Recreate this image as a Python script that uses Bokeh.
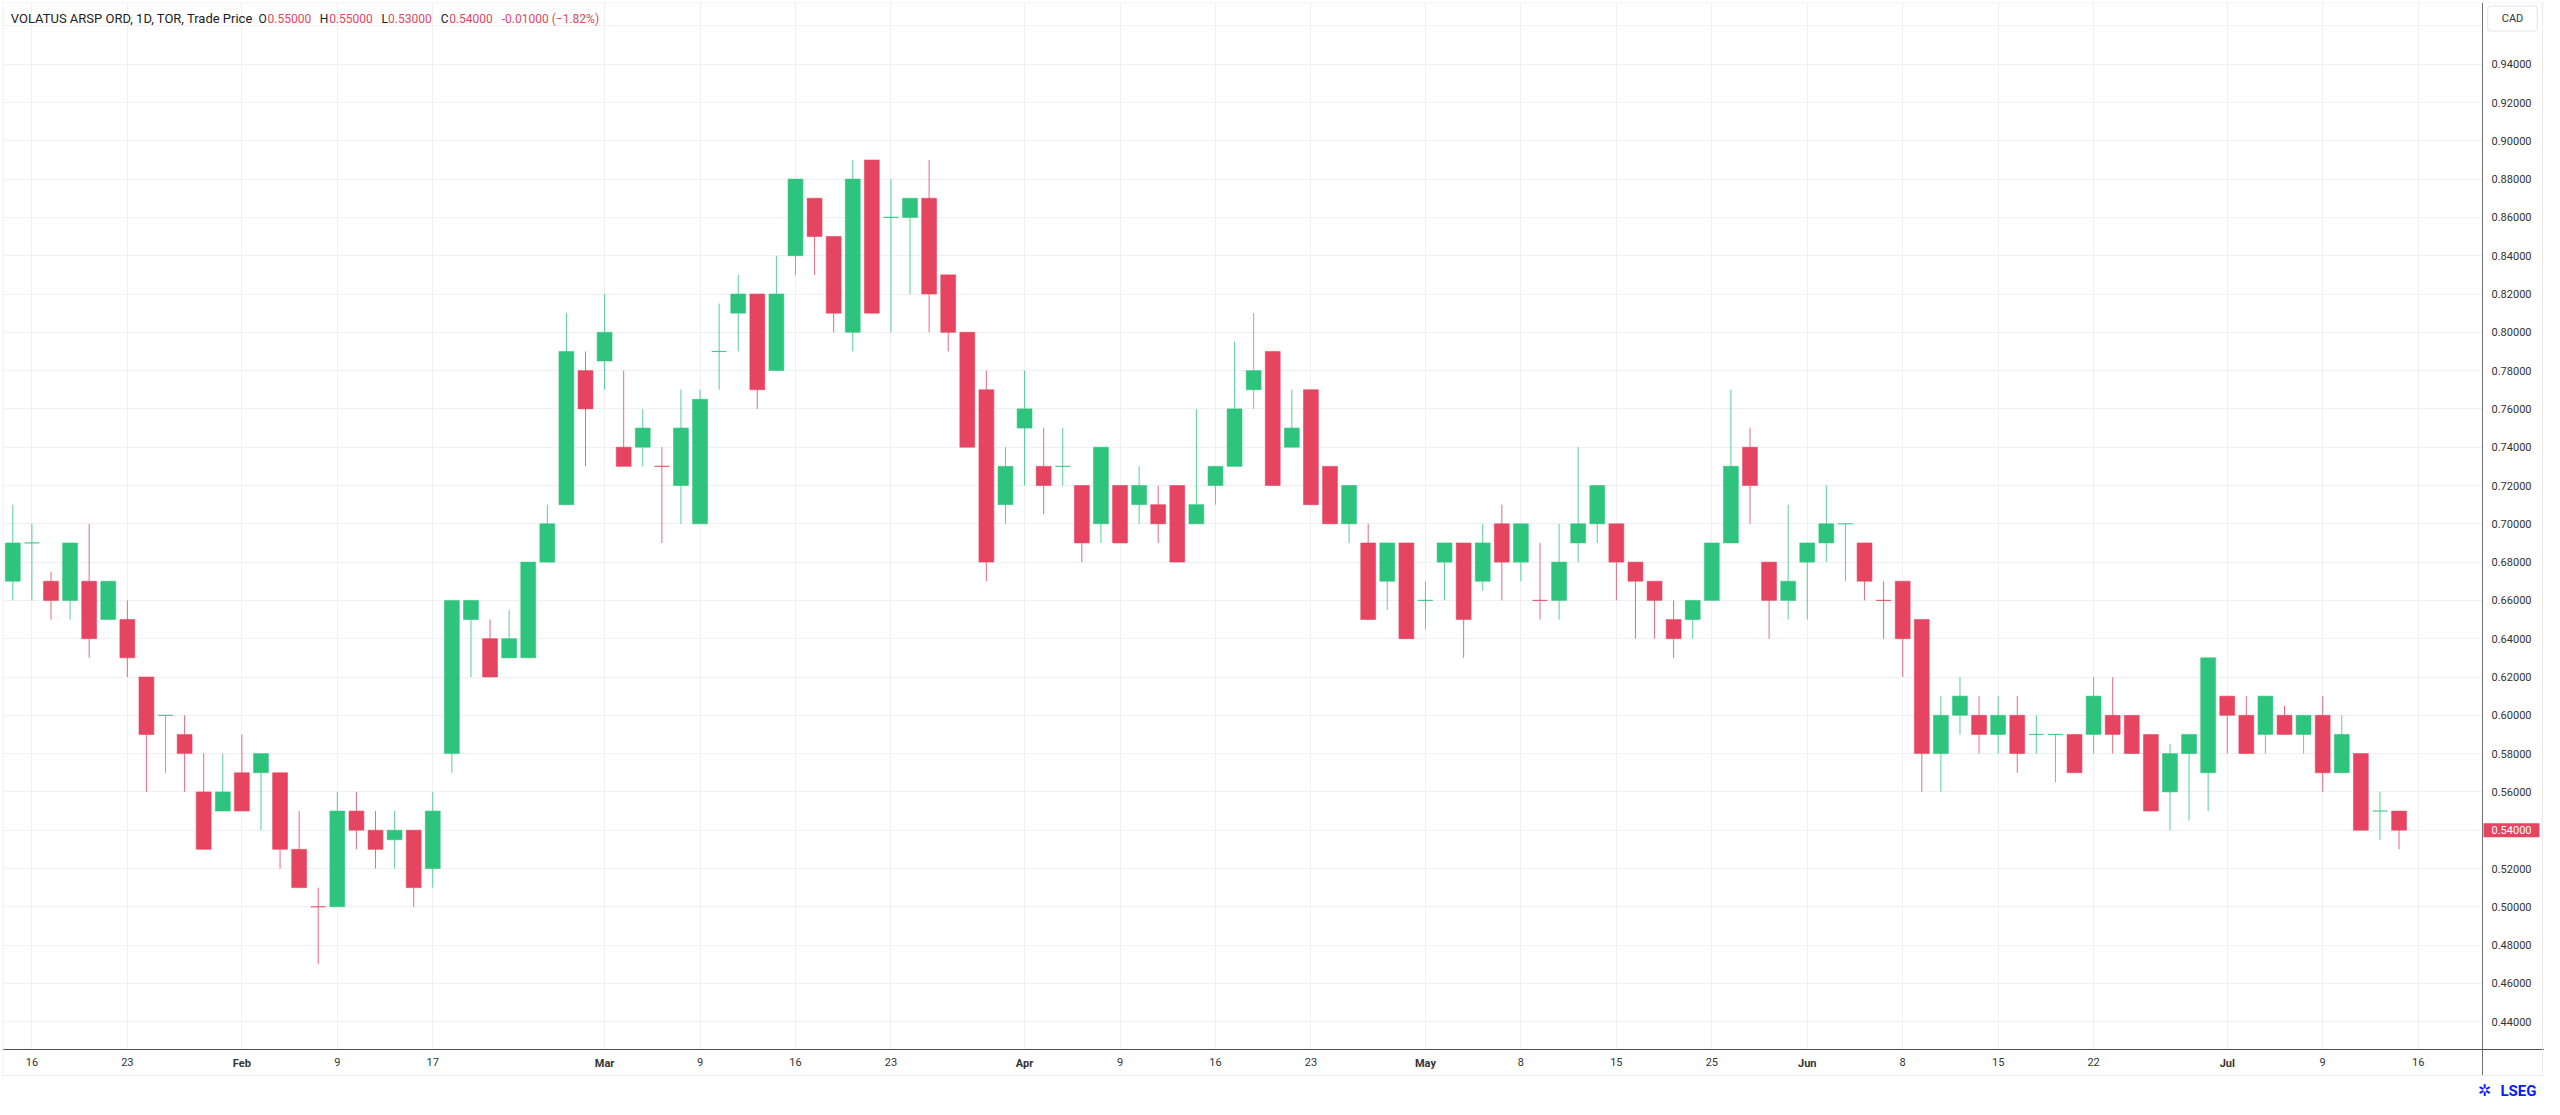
import numpy as np
import pandas as pd
from bokeh.plotting import figure
from bokeh.models import (Range1d, FixedTicker, NumeralTickFormatter, Label,
                          ColumnDataSource, BoxAnnotation, Span)
from bokeh.embed import file_html
from bokeh.resources import INLINE

# ---------------- data (daily OHLC, TOR, CAD) ----------------
first_day = "2026-01-15"
last_axis_day = "2026-07-16"
holidays = ["2026-02-16", "2026-04-03", "2026-05-18", "2026-07-01"]

opens = [
    .67, .69, .67, .66, .67, .65, .65, .62, .60, .59,
    .56, .55, .57, .57, .57, .53, .50, .50, .55, .54,
    .535, .54, .52, .58, .65, .64, .63, .63, .68, .71,
    .78, .785, .74, .74, .73, .72, .70, .79, .81, .82,
    .78, .84, .87, .85, .80, .89, .86, .86, .87, .83,
    .80, .77, .71, .75, .73, .73, .72, .70, .72, .71,
    .71, .72, .70, .72, .73, .77, .79, .74, .77, .73,
    .70, .69, .67, .69, .66, .68, .69, .67, .70, .68,
    .66, .66, .69, .70, .70, .68, .67, .65, .65, .66,
    .69, .74, .68, .66, .68, .69, .70, .69, .66, .67,
    .65, .58, .60, .60, .59, .60, .59, .59, .59, .59,
    .60, .60, .59, .56, .58, .57, .61, .60, .59, .60,
    .59, .60, .57, .58, .55, .55]
highs = [
    .71, .70, .675, .69, .70, .67, .66, .62, .60, .60,
    .58, .58, .59, .58, .57, .55, .51, .56, .56, .55,
    .55, .54, .56, .66, .66, .65, .655, .68, .71, .81,
    .79, .82, .78, .76, .74, .77, .77, .815, .83, .82,
    .84, .88, .87, .85, .89, .89, .88, .87, .89, .83,
    .80, .78, .74, .78, .75, .75, .72, .74, .72, .73,
    .72, .72, .76, .73, .795, .81, .79, .77, .77, .73,
    .72, .70, .69, .69, .67, .69, .69, .70, .71, .70,
    .69, .70, .74, .72, .70, .68, .67, .66, .66, .69,
    .77, .75, .68, .71, .69, .72, .70, .69, .67, .67,
    .65, .61, .62, .61, .61, .61, .60, .59, .59, .62,
    .62, .60, .59, .585, .59, .63, .61, .61, .61, .605,
    .60, .61, .60, .58, .56, .55]
lows = [
    .66, .66, .65, .65, .63, .65, .62, .56, .57, .56,
    .53, .55, .55, .54, .52, .51, .47, .50, .53, .52,
    .52, .50, .51, .57, .62, .62, .63, .63, .68, .71,
    .73, .77, .73, .73, .69, .70, .70, .77, .79, .76,
    .78, .83, .83, .80, .79, .81, .80, .82, .80, .79,
    .74, .67, .70, .72, .705, .72, .68, .69, .69, .70,
    .69, .68, .70, .71, .73, .76, .72, .74, .71, .70,
    .69, .65, .655, .64, .645, .66, .63, .665, .66, .67,
    .65, .65, .68, .69, .66, .64, .64, .63, .64, .66,
    .69, .70, .64, .65, .65, .68, .67, .66, .64, .62,
    .56, .56, .59, .58, .58, .57, .58, .565, .57, .58,
    .58, .58, .55, .54, .545, .55, .58, .58, .58, .59,
    .58, .56, .57, .54, .535, .53]
closes = [
    .69, .69, .66, .69, .64, .67, .63, .59, .60, .58,
    .53, .56, .55, .58, .53, .51, .50, .55, .54, .53,
    .54, .51, .55, .66, .66, .62, .64, .68, .70, .79,
    .76, .80, .73, .75, .73, .75, .765, .79, .82, .77,
    .82, .88, .85, .81, .88, .81, .86, .87, .82, .80,
    .74, .68, .73, .76, .72, .73, .69, .74, .69, .72,
    .70, .68, .71, .73, .76, .78, .72, .75, .71, .70,
    .72, .65, .69, .64, .66, .69, .65, .69, .68, .70,
    .66, .68, .70, .72, .68, .67, .66, .64, .66, .69,
    .73, .72, .66, .67, .69, .70, .70, .67, .66, .64,
    .58, .60, .61, .59, .60, .58, .59, .59, .57, .61,
    .59, .58, .55, .58, .59, .63, .60, .58, .61, .59,
    .60, .57, .59, .54, .55, .54]

tick_dates = ["2026-01-16", "2026-01-23", "2026-02-02", "2026-02-09", "2026-02-17",
              "2026-03-02", "2026-03-09", "2026-03-16", "2026-03-23", "2026-04-01",
              "2026-04-09", "2026-04-16", "2026-04-23", "2026-05-01", "2026-05-08",
              "2026-05-15", "2026-05-25", "2026-06-01", "2026-06-08", "2026-06-15",
              "2026-06-22", "2026-07-02", "2026-07-09", "2026-07-16"]
tick_labels = ["16", "23", "Feb", "9", "17", "Mar", "9", "16", "23", "Apr", "9", "16",
               "23", "May", "8", "15", "25", "Jun", "8", "15", "22", "Jul", "9", "16"]
month_names = ["Feb", "Mar", "Apr", "May", "Jun", "Jul"]
price_ticks = [0.44, 0.46, 0.48, 0.50, 0.52, 0.54, 0.56, 0.58, 0.60, 0.62, 0.64, 0.66,
               0.68, 0.70, 0.72, 0.74, 0.76, 0.78, 0.80, 0.82, 0.84, 0.86, 0.88, 0.90,
               0.92, 0.94]
grid_ticks = price_ticks + [0.96]
title_text = "VOLATUS ARSP ORD, 1D, TOR, Trade Price"
currency = "CAD"

# ---------------- style / layout ----------------
GREEN = "#2EC47E"
RED = "#E54560"
TEXT = "#222222"
AXIS_TEXT = "#333333"
GRID = "#F0F0F0"
BORDER = "#EBEBEB"
FONT = "Roboto"

W, H, MARGIN = 2544, 1099, 8
FRAME_L, FRAME_T = 10, 10                 # page px of plot area top-left
AXIS_X, AXIS_Y = 2490, 1057               # page px of price axis / time axis lines
PANEL_B = 1083                            # page px of the widget's bottom edge
BAR0_PX, BAR_PX = 20.3, 19.09             # first bar centre, bar spacing
REF_PRICE, REF_PX, PX_PER_UNIT = 0.94, 71.7, 1915.0


def xd(px):
    return (px - BAR0_PX) / BAR_PX


def yd(py):
    return REF_PRICE - (py - REF_PX) / PX_PER_UNIT


# trading-day index for the time axis
days = pd.bdate_range(first_day, last_axis_day, freq="C", holidays=holidays)
day_index = {d.strftime("%Y-%m-%d"): i for i, d in enumerate(days)}
tick_pos = [day_index[d] for d in tick_dates]

o = np.array(opens)
h = np.array(highs)
lo = np.array(lows)
c = np.array(closes)
n = len(o)
x = np.arange(n)
prev_c = np.concatenate([[c[0]], c[:-1]])
up = (c > o) | ((c == o) & (c >= prev_c))
col = np.where(up, GREEN, RED)
doji = c == o

src = ColumnDataSource(dict(x=x, h=h, l=lo, color=col))
body_src = ColumnDataSource(dict(x=x[~doji], top=np.maximum(o, c)[~doji],
                                 bottom=np.minimum(o, c)[~doji], color=col[~doji]))
doji_src = ColumnDataSource(dict(x0=x[doji] - 0.39, x1=x[doji] + 0.39, y=c[doji],
                                 color=col[doji]))

p = figure(width=W, height=H, title=None,
           x_range=Range1d(xd(FRAME_L), xd(MARGIN + W)),
           y_range=Range1d(yd(MARGIN + H), yd(FRAME_T)),
           y_axis_location="right", output_backend="svg",
           toolbar_location=None, tools="",
           min_border_left=FRAME_L - MARGIN, min_border_top=FRAME_T - MARGIN,
           min_border_right=0, min_border_bottom=0)
p.background_fill_color = "white"
p.border_fill_color = "white"
p.outline_line_color = None

# grids (kept inside the price pane by white masks)
p.xgrid.ticker = FixedTicker(ticks=tick_pos)
p.ygrid.ticker = FixedTicker(ticks=grid_ticks)
p.xgrid.grid_line_color = GRID
p.ygrid.grid_line_color = GRID
p.xgrid.level = "image"
p.ygrid.level = "image"
p.add_layout(BoxAnnotation(left=xd(AXIS_X + 0.5), fill_color="white", fill_alpha=1,
                           line_color=None, level="underlay"))
p.add_layout(BoxAnnotation(top=yd(AXIS_Y + 0.5), fill_color="white", fill_alpha=1,
                           line_color=None, level="underlay"))

# axes, pinned at the pane edges
yax = p.yaxis[0]
yax.fixed_location = xd(AXIS_X)
yax.ticker = FixedTicker(ticks=price_ticks)
yax.formatter = NumeralTickFormatter(format="0.00000")
yax.major_tick_out = 0
yax.major_tick_in = 0
yax.minor_tick_out = 0
yax.minor_tick_in = 0
yax.axis_line_color = "#707070"
yax.major_label_standoff = 9
yax.major_label_text_font = FONT
yax.major_label_text_font_size = "11px"
yax.major_label_text_color = AXIS_TEXT

xax = p.xaxis[0]
xax.fixed_location = yd(AXIS_Y)
xax.ticker = FixedTicker(ticks=tick_pos)
xax.major_label_overrides = {t: ("" if lab in month_names else lab)
                             for t, lab in zip(tick_pos, tick_labels)}
xax.major_tick_out = 0
xax.major_tick_in = 0
xax.minor_tick_out = 0
xax.minor_tick_in = 0
xax.axis_line_color = "#505050"
xax.major_label_standoff = 8
xax.major_label_text_font = FONT
xax.major_label_text_font_size = "11px"
xax.major_label_text_color = AXIS_TEXT

# widget borders
p.add_layout(Span(location=yd(FRAME_T), dimension="width", line_color=BORDER))
p.add_layout(Span(location=xd(FRAME_L + 0.5), dimension="height", line_color=BORDER))
p.add_layout(Span(location=xd(2550), dimension="height", line_color=BORDER))
p.add_layout(Span(location=yd(PANEL_B), dimension="width", line_color=BORDER))
# nothing of the widget below its bottom edge
p.add_layout(BoxAnnotation(top=yd(PANEL_B + 0.6), fill_color="white", fill_alpha=1,
                           line_color=None, level="annotation"))

# candles
p.segment(x0="x", y0="l", x1="x", y1="h", source=src, line_color="color",
          line_alpha=0.8, line_width=1)
p.vbar(x="x", width=0.78, top="top", bottom="bottom", source=body_src,
       fill_color="color", line_color="color", line_alpha=0.55, line_width=1)
p.segment(x0="x0", y0="y", x1="x1", y1="y", source=doji_src, line_color="color",
          line_alpha=0.85, line_width=1.2)

# month labels in bold on the time axis
for t, lab in zip(tick_pos, tick_labels):
    if lab in month_names:
        p.add_layout(Label(x=t, y=yd(1071), text=lab, text_align="center",
                           text_baseline="middle", text_font=FONT,
                           text_font_size="11px", text_font_style="bold",
                           text_color=AXIS_TEXT))

# header legend
chg = c[-1] - c[-2]
pct = chg / c[-2] * 100
chg_txt = f"{chg:.5f} ({pct:.2f}%)".replace("(-", "(\u2212")
header = [(18.3, title_text, TEXT, "13px"),
          (266.0, "O", TEXT, "12px"), (275.0, f"{o[-1]:.5f}", RED, "12px"),
          (327.3, "H", TEXT, "12px"), (336.7, f"{h[-1]:.5f}", RED, "12px"),
          (389.0, "L", TEXT, "12px"), (395.5, f"{lo[-1]:.5f}", RED, "12px"),
          (448.3, "C", TEXT, "12px"), (456.7, f"{c[-1]:.5f}", RED, "12px"),
          (509.3, chg_txt, RED, "12px")]
for px, txt, colr, fs in header:
    p.add_layout(Label(x=xd(px), y=yd(26), text=txt, text_align="left",
                       text_baseline="middle", text_font=FONT, text_font_size=fs,
                       text_color=colr))

# currency box
p.add_layout(Label(x=xd(2520), y=yd(26), text=currency, text_align="center",
                   text_baseline="middle", text_font=FONT, text_font_size="11px",
                   text_color=AXIS_TEXT, background_fill_color="white",
                   border_line_color="#E3E3E3", border_line_width=1,
                   padding=dict(left=14, right=14, top=6, bottom=6), border_radius=3))

# last price marker
last_col = RED if not up[-1] else GREEN
p.add_layout(Label(x=xd(AXIS_X + 1), y=c[-1], text=f"{c[-1]:.5f}", text_align="left",
                   text_baseline="middle", text_font=FONT, text_font_size="11px",
                   text_color="white", background_fill_color=last_col,
                   padding=dict(left=8, right=8, top=3, bottom=3)))

# logo
p.add_layout(Label(x=xd(2492), y=yd(1098), text="\u2732", text_align="center",
                   text_baseline="middle", text_font="DejaVu Sans",
                   text_font_size="16px", text_font_style="bold", text_color="#001EFF"))
p.add_layout(Label(x=xd(2508), y=yd(1098), text="LSEG", text_align="left",
                   text_baseline="middle", text_font=FONT, text_font_size="15px",
                   text_font_style="bold", text_color="#001EFF"))

open("out.html", "w").write(file_html(p, INLINE))
